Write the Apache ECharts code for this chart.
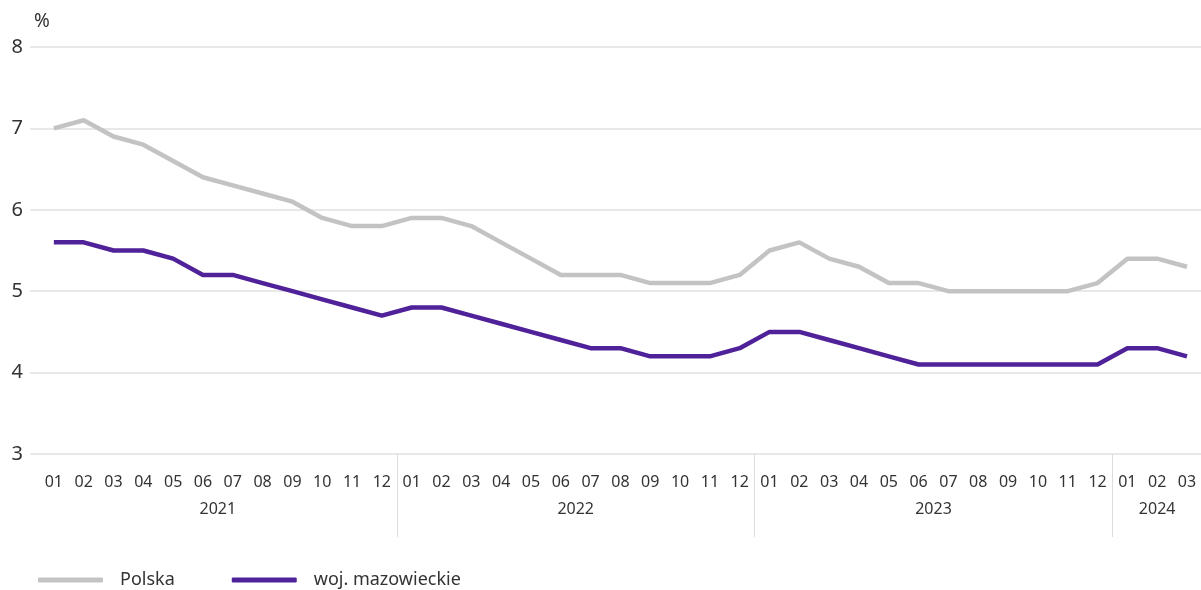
<!DOCTYPE html>
<html>
<head>
<meta charset="utf-8">
<script src="https://cdn.jsdelivr.net/npm/echarts@6/dist/echarts.min.js"></script>
<style>html,body{margin:0;padding:0;background:#fff}#c{width:1201px;height:590px}</style>
</head>
<body>
<div id="c"></div>
<script>
const years = ['2021', '2022', '2023', '2024'];
const monthsPerYear = [12, 12, 12, 3];
const monthLabels = ['01','02','03','04','05','06','07','08','09','10','11','12'];
const yTicks = [3, 4, 5, 6, 7, 8];
const seriesNames = ['Polska', 'woj. mazowieckie'];
const polska = [
  7.0, 7.1, 6.9, 6.8, 6.6, 6.4, 6.3, 6.2, 6.1, 5.9, 5.8, 5.8,
  5.9, 5.9, 5.8, 5.6, 5.4, 5.2, 5.2, 5.2, 5.1, 5.1, 5.1, 5.2,
  5.5, 5.6, 5.4, 5.3, 5.1, 5.1, 5.0, 5.0, 5.0, 5.0, 5.0, 5.1,
  5.4, 5.4, 5.3
];
const mazowieckie = [
  5.6, 5.6, 5.5, 5.5, 5.4, 5.2, 5.2, 5.1, 5.0, 4.9, 4.8, 4.7,
  4.8, 4.8, 4.7, 4.6, 4.5, 4.4, 4.3, 4.3, 4.2, 4.2, 4.2, 4.3,
  4.5, 4.5, 4.4, 4.3, 4.2, 4.1, 4.1, 4.1, 4.1, 4.1, 4.1, 4.1,
  4.3, 4.3, 4.2
];

const categories = [];
const groups = [];
years.forEach((y, i) => {
  const start = categories.length;
  for (let m = 0; m < monthsPerYear[i]; m++) categories.push(monthLabels[m]);
  groups.push({ year: y, start: start, end: categories.length - 1 });
});
const n = categories.length;
const idx = categories.map((_, i) => i);
const yearCenters = groups.map(g => (g.start + g.end) / 2);
const separators = groups.slice(1).map(g => g.start - 0.5);

const xMin = -0.8, xMax = n - 1 + 0.47;
const font = 'Noto Sans';

const chart = echarts.init(document.getElementById('c'), null, { renderer: 'canvas' });
chart.setOption({
  animation: false,
  backgroundColor: '#fff',
  textStyle: { fontFamily: font },
  grid: { left: 30, right: 0, top: 47, bottom: 136, containLabel: false },
  legend: {
    left: 38, top: 571, padding: 0,
    itemWidth: 65, itemHeight: 5, itemGap: 57,
    icon: 'roundRect',
    textStyle: { fontFamily: font, fontSize: 18, color: '#333', padding: [0, 0, 0, 12] },
    data: seriesNames
  },
  xAxis: [
    {
      type: 'value', min: xMin, max: xMax,
      axisLine: { show: false }, axisTick: { show: false }, splitLine: { show: false },
      axisLabel: {
        customValues: idx, margin: 20, fontSize: 16, color: '#333', fontFamily: font,
        formatter: v => categories[Math.round(v)]
      }
    },
    {
      type: 'value', min: xMin, max: xMax, position: 'bottom',
      axisLine: { show: false }, splitLine: { show: false },
      axisTick: { show: true, customValues: separators, length: 83, lineStyle: { color: '#dcdcdc', width: 1 } },
      axisLabel: {
        customValues: yearCenters, margin: 47, fontSize: 16, color: '#333', fontFamily: font,
        formatter: v => {
          const k = yearCenters.findIndex(c => Math.abs(c - v) < 1e-6);
          return k >= 0 ? groups[k].year : '';
        }
      }
    }
  ],
  yAxis: {
    type: 'value', min: yTicks[0], max: yTicks[yTicks.length - 1], interval: 1,
    name: '%', nameLocation: 'end', nameGap: 16,
    nameTextStyle: { fontSize: 19, color: '#333', align: 'right', padding: [0, 4, 0, 0], fontFamily: font },
    axisLine: { show: false }, axisTick: { show: false },
    axisLabel: { fontSize: 20, color: '#333', margin: 7, fontFamily: font },
    splitLine: { lineStyle: { color: '#e0e0e0', width: 1.5 } }
  },
  series: [
    {
      name: seriesNames[0], type: 'line', xAxisIndex: 0,
      data: polska.map((v, i) => [idx[i], v]),
      showSymbol: false, symbol: 'none',
      lineStyle: { color: '#c3c3c3', width: 4.5 }, itemStyle: { color: '#c3c3c3' }
    },
    {
      name: seriesNames[1], type: 'line', xAxisIndex: 0,
      data: mazowieckie.map((v, i) => [idx[i], v]),
      showSymbol: false, symbol: 'none',
      lineStyle: { color: '#4f2299', width: 4.5 }, itemStyle: { color: '#4f2299' }
    }
  ]
});
</script>
</body>
</html>
